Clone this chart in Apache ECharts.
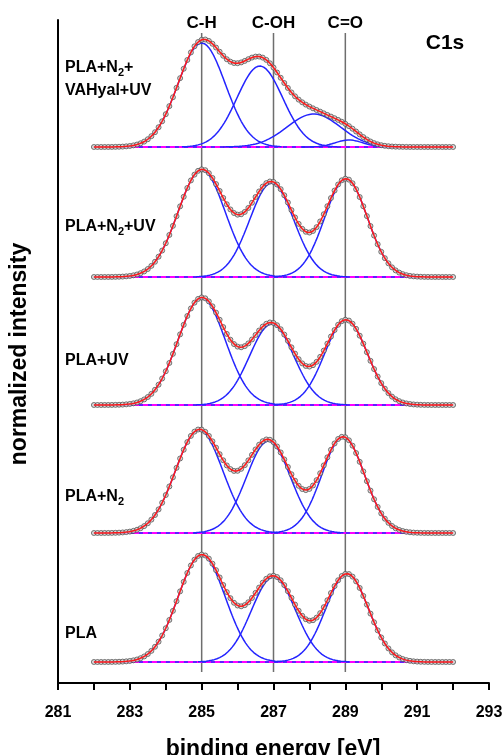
<!DOCTYPE html>
<html>
<head>
<meta charset="utf-8">
<script src="https://cdn.jsdelivr.net/npm/echarts@6/dist/echarts.min.js"></script>
<style>
html,body{margin:0;padding:0;background:#fff;}
#chart{width:504px;height:755px;}
</style>
</head>
<body>
<div id="chart"></div>
<script>
// ---- data ----
// panels from top to bottom
const panelLabels = ['{a|PLA+N}{s|2}{a|+}\n{a|VAHyal+UV}', '{a|PLA+N}{s|2}{a|+UV}', '{a|PLA+UV}', '{a|PLA+N}{s|2}', '{a|PLA}'];
const panelOffsets = [536, 406, 278, 150, 21];            // baseline of each stacked spectrum (normalized units)
// fitted component peaks for each panel: centre [eV], height, FWHM [eV]
const peakCenters = [[285.0, 286.62, 288.12, 289.1], [285.0, 286.95, 289.02], [285.0, 286.95, 289.02], [284.93, 286.86, 288.94], [285.0, 287.0, 289.05]];
const peakHeights = [[104, 81, 33, 7], [107, 94, 98], [107, 81, 85], [103, 92, 96], [107, 85, 88]];
const peakFwhm    = [[1.55, 1.5, 1.75, 0.9], [1.55, 1.45, 1.4], [1.55, 1.45, 1.4], [1.55, 1.45, 1.4], [1.55, 1.45, 1.4]];
const measStart = 282, measEnd = 292, measStep = 0.1;      // measured energy range
const refEnergies = [285, 287, 289];
const refLabels = ['C-H', 'C-OH', 'C=O'];
const refExtent = [11, 650];
const xTicks = [281, 283, 285, 287, 289, 291, 293];

const FONT = '"Liberation Sans", Arial, sans-serif';

function gauss(x, c, h, w) {
  const s = w / 2.3548;
  return h * Math.exp(-(x - c) * (x - c) / (2 * s * s));
}
function total(i, e) {
  let v = 0;
  for (let k = 0; k < peakCenters[i].length; k++) v += gauss(e, peakCenters[i][k], peakHeights[i][k], peakFwhm[i][k]);
  return v;
}
function range(a, b, st) {
  const out = [];
  const n = Math.round((b - a) / st);
  for (let j = 0; j <= n; j++) out.push(+(a + j * st).toFixed(3));
  return out;
}
const measE = range(measStart, measEnd, measStep);
const fineE = range(measStart, measEnd, 0.025);

const series = [];
refEnergies.forEach(function (e) {
  series.push({type: 'line', data: [[e, refExtent[0]], [e, refExtent[1]]], symbol: 'none', silent: true,
    lineStyle: {color: '#6e6e6e', width: 1.5}, z: 1});
});
panelOffsets.forEach(function (off, i) {
  series.push({type: 'line', data: [[measStart, off], [measEnd, off]], symbol: 'none',
    lineStyle: {color: '#ff00ff', width: 2}, z: 2});
  series.push({type: 'line', data: [[measStart, off], [measEnd, off]], symbol: 'none',
    lineStyle: {color: '#2b2bff', width: 1.5, type: [4, 5]}, z: 3});
  peakCenters[i].forEach(function (c, k) {
    const w = peakFwhm[i][k];
    const es = fineE.filter(function (e) { return e >= c - 1.45 * w && e <= c + 1.45 * w; });
    series.push({type: 'line', data: es.map(function (e) { return [e, off + gauss(e, c, peakHeights[i][k], w)]; }),
      symbol: 'none', lineStyle: {color: '#2424ff', width: 1.5}, z: 4});
  });
  series.push({type: 'scatter', data: measE.map(function (e) { return [e, off + total(i, e)]; }),
    symbol: 'circle', symbolSize: 5, itemStyle: {color: '#d0d0d0', borderColor: '#454545', borderWidth: 0.9}, z: 5});
  series.push({type: 'line', data: fineE.map(function (e) { return [e, off + total(i, e)]; }),
    symbol: 'none', lineStyle: {color: '#ff1a1a', width: 1.5}, z: 6});
});

const chart = echarts.init(document.getElementById('chart'), null, {renderer: 'canvas'});
const option = {
  animation: false,
  backgroundColor: '#fff',
  grid: {left: 58, right: 15, top: 20, bottom: 72, containLabel: false, outerBoundsMode: 'none'},
  xAxis: {
    type: 'value', min: 281, max: 293, interval: 1,
    axisLine: {lineStyle: {color: '#000', width: 2}},
    axisTick: {length: 7, lineStyle: {color: '#000', width: 2}},
    splitLine: {show: false},
    axisLabel: {
      margin: 22, color: '#000', fontSize: 16, fontWeight: 'bold', fontFamily: FONT,
      formatter: function (v) { return xTicks.indexOf(Math.round(v)) >= 0 ? String(Math.round(v)) : ''; }
    }
  },
  yAxis: {
    type: 'value', min: 0, max: 663,
    axisLine: {show: true, lineStyle: {color: '#000', width: 2}},
    axisTick: {show: false}, axisLabel: {show: false}, splitLine: {show: false}
  },
  series: series
};
chart.setOption(option);

const g = [];
const labelY = [68, 227, 361, 497, 634];
panelLabels.forEach(function (t, i) {
  g.push({type: 'text', x: 65, y: labelY[i], z: 50,
    style: {text: t, align: 'left', verticalAlign: i === 0 ? 'top' : 'middle', fill: '#000',
      rich: {
        a: {fontSize: 16, fontWeight: 'bold', fontFamily: FONT, fill: '#000', lineHeight: 23},
        s: {fontSize: 11, fontWeight: 'bold', fontFamily: FONT, fill: '#000', padding: [9, 0, 0, 0], lineHeight: 23}
      }}});
});
// top panel label is two lines; position its first line
g[0].y = labelY[0] - 11.5;
refEnergies.forEach(function (e, k) {
  const p = chart.convertToPixel({gridIndex: 0}, [e, refExtent[1]]);
  g.push({type: 'text', x: p[0], y: 23, z: 50,
    style: {text: refLabels[k], align: 'center', verticalAlign: 'middle', fill: '#000',
      font: 'bold 17px ' + FONT}});
});
g.push({type: 'text', x: 445, y: 43, z: 50,
  style: {text: 'C1s', align: 'center', verticalAlign: 'middle', fill: '#000', font: 'bold 21px ' + FONT}});
g.push({type: 'text', x: 20, y: 354, rotation: Math.PI / 2, z: 50,
  style: {text: 'normalized intensity', align: 'center', verticalAlign: 'middle', fill: '#000', font: 'bold 23px ' + FONT}});
g.push({type: 'text', x: 273, y: 750, z: 50,
  style: {text: 'binding energy [eV]', align: 'center', verticalAlign: 'middle', fill: '#000', font: 'bold 23px ' + FONT}});
chart.setOption({graphic: g});
</script>
</body>
</html>
